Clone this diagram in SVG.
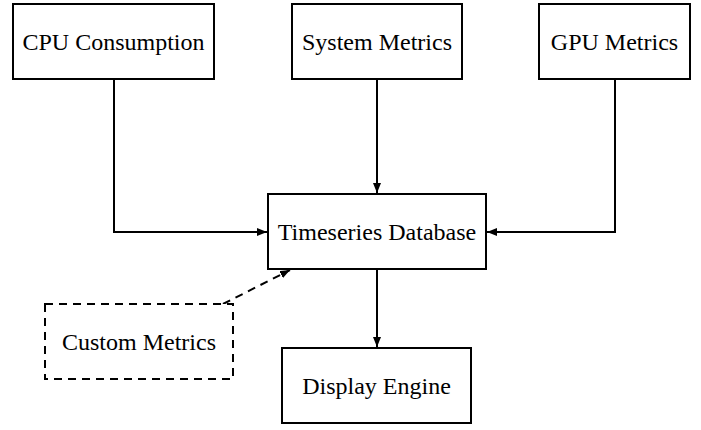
<svg xmlns="http://www.w3.org/2000/svg" width="701" height="430" viewBox="0 0 701 430">
<style>
.box{fill:#fff;stroke:#000;stroke-width:2}
.dbox{fill:#fff;stroke:#000;stroke-width:2;stroke-dasharray:8,6}
.lbl{font-family:"Liberation Serif","Times New Roman",serif;font-size:24px;fill:#000;text-anchor:middle}
.edge{fill:none;stroke:#000;stroke-width:2}
.dedge{fill:none;stroke:#000;stroke-width:2;stroke-dasharray:8,6}
</style>
<defs>
<marker id="ah" viewBox="0 0 10 8" refX="10" refY="4" markerWidth="10" markerHeight="8" markerUnits="userSpaceOnUse" orient="auto">
<path d="M0,0 L10,4 L0,8 Z" fill="#000"/>
</marker>
</defs>
<rect width="701" height="430" fill="#fff"/>
<g id="connectors">
<path class="edge" d="M114,79 V232 H267" marker-end="url(#ah)"/>
<path class="edge" d="M377,79 V193" marker-end="url(#ah)"/>
<path class="edge" d="M615,79 V232 H487" marker-end="url(#ah)"/>
<path class="edge" d="M377,269 V347" marker-end="url(#ah)"/>
<path class="dedge" d="M223,304 L290,270" marker-end="url(#ah)"/>
</g>
<g id="cpu"><rect class="box" x="13" y="4" width="201" height="75"/><text class="lbl" x="113.5" y="49.5">CPU Consumption</text></g>
<g id="system"><rect class="box" x="292" y="4" width="170" height="75"/><text class="lbl" x="377" y="49.5">System Metrics</text></g>
<g id="gpu"><rect class="box" x="539" y="4" width="151" height="75"/><text class="lbl" x="614.5" y="49.5">GPU Metrics</text></g>
<g id="tsdb"><rect class="box" x="268" y="194" width="218" height="75"/><text class="lbl" x="377" y="240">Timeseries Database</text></g>
<g id="custom"><rect class="dbox" x="45" y="304" width="188" height="75"/><text class="lbl" x="139" y="350">Custom Metrics</text></g>
<g id="display"><rect class="box" x="282" y="348" width="189" height="75"/><text class="lbl" x="376.5" y="394">Display Engine</text></g>
</svg>
